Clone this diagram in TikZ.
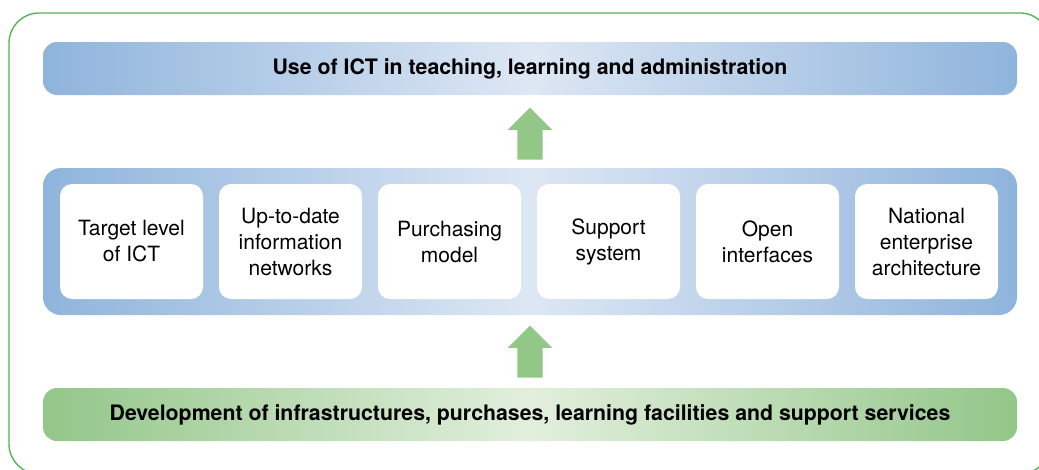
\documentclass[tikz,border=0pt]{standalone}
\usepackage{fontspec}
\setmainfont{TeX Gyre Heros}
\usetikzlibrary{shapes.arrows}
\definecolor{bluedark}{HTML}{8FB4DC}
\definecolor{bluelight}{HTML}{DDE7F4}
\definecolor{greendark}{HTML}{93C689}
\definecolor{greenlight}{HTML}{E2EFDD}
\definecolor{arrowgreen}{HTML}{93C787}
\definecolor{framegreen}{HTML}{4DB24D}
\begin{document}
\begin{tikzpicture}[x=1pt,y=-1pt,
  bluebar/.style={rectangle, rounded corners=14pt, minimum width=974pt, minimum height=53pt,
    left color=bluedark, right color=bluedark, middle color=bluelight,
    font=\fontsize{21.3}{25}\selectfont\bfseries},
  greenbar/.style={rectangle, rounded corners=14pt, minimum width=974pt, minimum height=53pt,
    left color=greendark, right color=greendark, middle color=greenlight,
    font=\fontsize{21.3}{25}\selectfont\bfseries},
  band/.style={rectangle, rounded corners=18pt, minimum width=974pt, minimum height=147pt,
    left color=bluedark, right color=bluedark, middle color=bluelight},
  itembox/.style={rectangle, rounded corners=12pt, fill=white, minimum width=143pt,
    minimum height=115pt, align=center, font=\fontsize{21}{26}\selectfont},
  uparrow/.style={single arrow, rotate=90, fill=arrowgreen, draw=none, inner sep=0pt,
    inner ysep=12.5pt, minimum height=52pt, single arrow head extend=9.5pt,
    shape border uses incircle=false}
]
\useasboundingbox (0,0) rectangle (1039,469);
\begin{scope}
  \clip (0,0) rectangle (1039,469);
  \draw[framegreen, line width=1.3pt, rounded corners=30pt] (9,13) rectangle (1050,474);
\end{scope}
\node[bluebar] (top) at (530,68.5) {Use of ICT in teaching, learning and administration};
\node[band] (band) at (530,241.5) {};
\node[greenbar] (bottom) at (530,414.5) {Development of infrastructures, purchases, learning facilities and support services};
\node[itembox] (b1) at (131.5,241.5) {Target level\\of ICT};
\node[itembox] (b2) at (290.5,241.5) {Up-to-date\\information\\networks};
\node[itembox] (b3) at (449.5,241.5) {Purchasing\\model};
\node[itembox] (b4) at (608.5,241.5) {Support\\system};
\node[itembox] (b5) at (767.5,241.5) {Open\\interfaces};
\node[itembox] (b6) at (926.5,241.5) {National\\enterprise\\architecture};
\node[uparrow] (a1) at (530,140) {};
\node[uparrow] (a2) at (530,358) {};
\end{tikzpicture}
\end{document}
